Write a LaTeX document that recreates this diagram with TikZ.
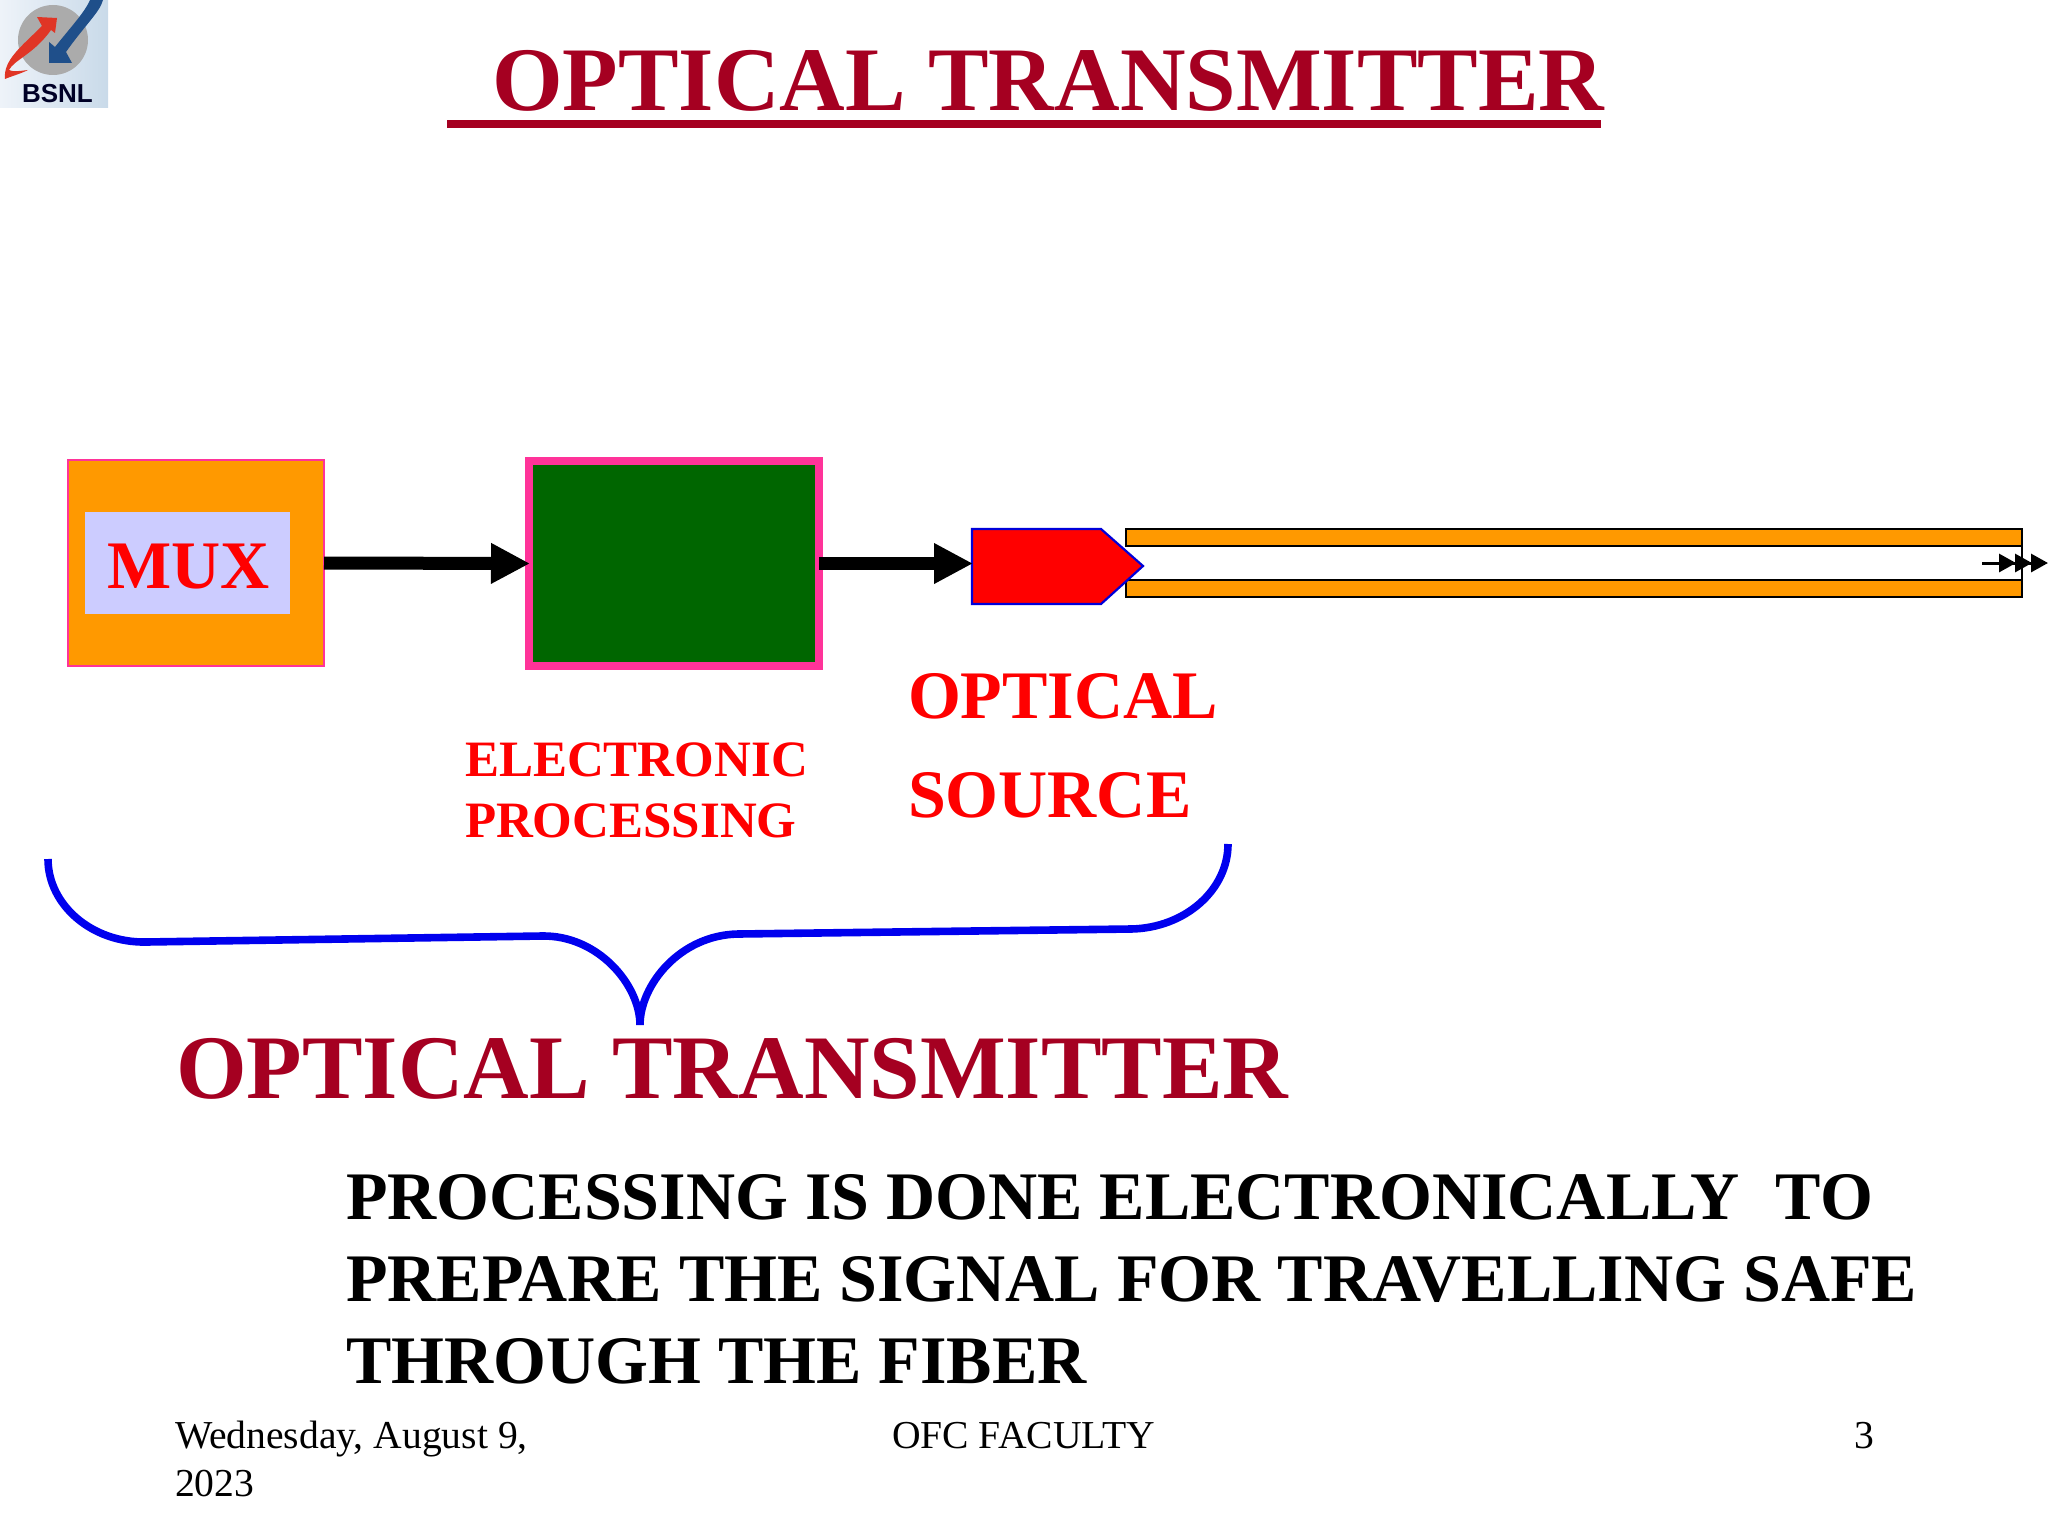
\documentclass[tikz,border=0pt]{standalone}
\usepackage{fontspec}
\setmainfont{Liberation Serif}
\newfontfamily\logofont{Liberation Sans}
\usetikzlibrary{arrows.meta}
\definecolor{titlered}{HTML}{A50021}
\definecolor{boxorange}{HTML}{FF9900}
\definecolor{boxpink}{HTML}{FF3399}
\definecolor{boxlav}{HTML}{CCCCFF}
\definecolor{boxgreen}{HTML}{006600}
\definecolor{bracketblue}{HTML}{0000EE}
\definecolor{logored}{HTML}{E03525}
\definecolor{logoblue}{HTML}{1F4F8A}
\definecolor{logogray}{HTML}{ABABAB}
\definecolor{logobgA}{HTML}{EEF3F9}
\definecolor{logobgB}{HTML}{C9DAE9}
\tikzset{
  txt/.style={anchor=base west,inner sep=0pt,outer sep=0pt},
  heading/.style={txt,text=titlered,font=\bfseries\fontsize{45.4}{50}\selectfont},
  bodyline/.style={txt,text=black,font=\bfseries\fontsize{34}{38}\selectfont},
  redlabel/.style={txt,text=red,font=\bfseries},
  foot/.style={txt,text=black,font=\fontsize{19.8}{24}\selectfont},
  flow/.style={line width=6.5pt,-{Triangle[length=19.5pt,width=19pt]},shorten >=-0.5pt},
  strip/.style={draw=black,line width=1.2pt,fill=boxorange}
}
\begin{document}
\begin{tikzpicture}[x=0.5pt,y=-0.5pt]
\useasboundingbox (0,0) rectangle (2048,1536);
% logo
\shade[left color=logobgA,right color=logobgB] (0,0) rectangle (108,108);
\fill[logogray] (53,40) circle[radius=35];
\fill[logored] (5,79) .. controls (3,60) and (22,46) .. (42,26) -- (37,17) -- (57,18) -- (55,33) -- (51,30) .. controls (34,54) and (14,60) .. (9,70) .. controls (12,72) and (20,71) .. (28,70) .. controls (20,74) and (12,76) .. (5,79) -- cycle;
\fill[logoblue] (103,0) .. controls (100,12) and (85,25) .. (66,52) -- (72,63) -- (49,63) -- (49,42) -- (55,47) .. controls (70,28) and (85,12) .. (90,0) -- cycle;
\node[txt,font=\logofont\bfseries\fontsize{13}{15}\selectfont,text=black!85!blue] (logotext) at (22,103) {BSNL};
% title
\node[heading] (title) at (492,111) {OPTICAL TRANSMITTER};
\coordinate (ulA) at (447,124);
\coordinate (ulB) at (1601,124);
\draw[titlered,line width=4pt] (ulA) -- (ulB);
% MUX
\node[draw=boxpink,fill=boxorange,line width=1pt,minimum width=128pt,minimum height=103pt,inner sep=0pt,outer sep=0pt] (mux) at (196,563) {};
\node[fill=boxlav,minimum width=102.5pt,minimum height=51pt,inner sep=0pt,outer sep=0pt] (muxin) at (187.5,563) {};
\node[redlabel,font=\bfseries\fontsize{34}{38}\selectfont] (muxtext) at (107,588) {MUX};
% processing
\node[draw=boxpink,fill=boxgreen,line width=4pt,minimum width=145pt,minimum height=102.5pt,inner sep=0pt,outer sep=0pt] (proc) at (674,563.5) {};
% fibre
\fill[white] (1126,529) rectangle (2022,597);
\node[strip,minimum width=448pt,minimum height=8.5pt,inner sep=0pt,outer sep=0pt] (fibtop) at (1574,537.5) {};
\node[strip,minimum width=448pt,minimum height=8.5pt,inner sep=0pt,outer sep=0pt] (fibbot) at (1574,588.5) {};
\draw[black,line width=1.2pt] (fibtop.south east) -- (fibbot.north east);
% source
\coordinate (srcin) at (972,563.5);
\draw[draw=blue!85!black,fill=red,line width=1.1pt,line join=miter] (srcin |- 0,529) -- (1101,529) -- (1143,566) -- (1101,604) -- (srcin |- 0,604) -- cycle;
% flow arrows
\draw[flow] (mux.east) -- (proc.west);
\draw[flow] (proc.east) -- (srcin);
% fibre arrow
\coordinate (fa) at (1982,563);
\coordinate (fb) at (2048,563);
\draw[line width=1.5pt,-{Triangle[length=8.5pt,width=9pt,sep=-0.5pt]Triangle[length=8.5pt,width=9pt,sep=-0.5pt]Triangle[length=8.5pt,width=9pt]}] (fa) -- (fb);
% labels
\node[redlabel,font=\bfseries\fontsize{25.5}{30}\selectfont] (elec) at (465,776) {ELECTRONIC};
\node[redlabel,font=\bfseries\fontsize{25.5}{30}\selectfont] (proct) at (465,837) {PROCESSING};
\node[redlabel,font=\bfseries\fontsize{34}{38}\selectfont] (opt) at (908,718) {OPTICAL};
\node[redlabel,font=\bfseries\fontsize{34}{38}\selectfont] (srct) at (908,817) {SOURCE};
% brace
\coordinate (bA) at (48,859);
\coordinate (bB) at (146,942);
\coordinate (bC) at (542,936);
\coordinate (bD) at (640,1025);
\coordinate (bE) at (738,934);
\coordinate (bF) at (1131,929);
\coordinate (bG) at (1228,844);
\draw[bracketblue,line width=3.8pt] (bA) .. controls (48,905) and (92,943) .. (bB) -- (bC) .. controls (598,935) and (640,985) .. (bD) .. controls (640,985) and (680,935) .. (bE) -- (bF) .. controls (1185,928) and (1228,890) .. (bG);
% lower heading
\node[heading] (head2) at (176,1098) {OPTICAL TRANSMITTER};
\node[bodyline] (l1) at (346,1219) {PROCESSING IS DONE ELECTRONICALLY\ \ \hspace{1.2pt}TO};
\node[bodyline] (l2) at (346,1301) {PREPARE THE SIGNAL FOR TRAVELLING SAFE};
\node[bodyline] (l3) at (346,1383) {THROUGH THE FIBER};
% footer
\node[foot] (date1) at (175,1448) {Wednesday, August 9,};
\node[foot] (date2) at (175,1496) {2023};
\node[foot] (fac) at (892,1448) {OFC FACULTY};
\node[foot] (pg) at (1854,1448) {3};
\end{tikzpicture}
\end{document}
